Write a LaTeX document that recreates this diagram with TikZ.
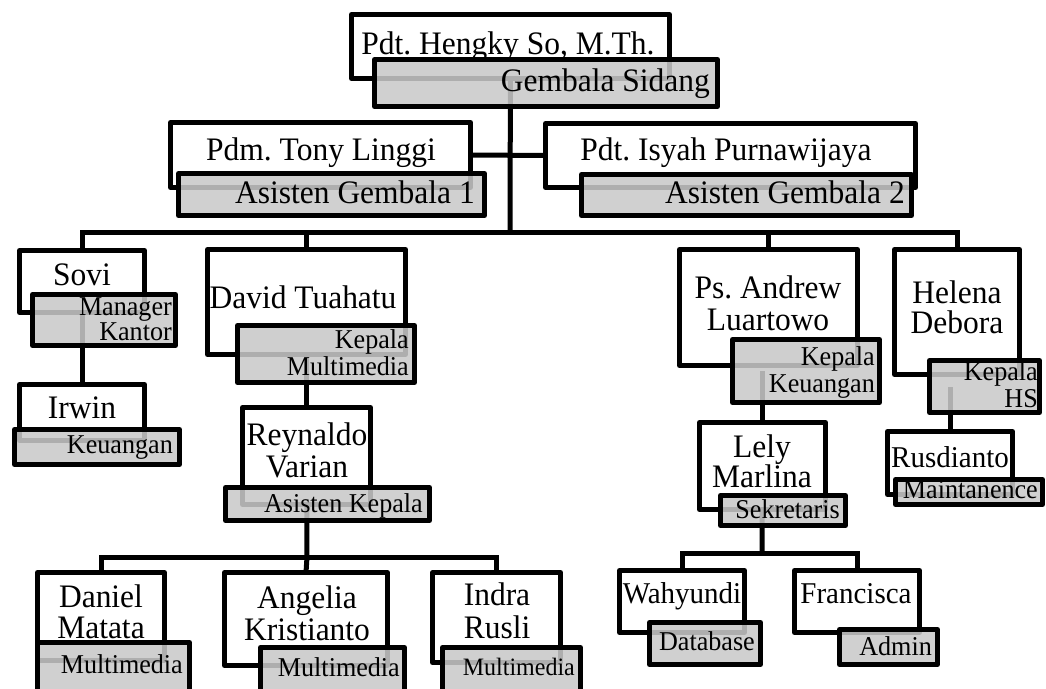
\documentclass[tikz,border=0pt]{standalone}
\usepackage{fontspec}
\setmainfont{Liberation Serif}[FakeStretch=0.96]
\frenchspacing
\usetikzlibrary{backgrounds}
\newcommand\orgbox[6]{\node[#1, minimum width={#5-#3-5}, minimum height={#6-#4-5}] (#2) at ({(#3+#5)/2},{(#4+#6)/2}) {};}
\tikzset{
  wbox/.style={draw, rectangle, line width=5pt, fill=white, inner sep=0pt, outer sep=0pt, line join=round},
  gbox/.style={draw, rectangle, line width=5pt, fill=black!21, fill opacity=0.87, inner sep=0pt, outer sep=0pt, line join=round},
  nm/.style={font=\frenchspacing\fontsize{32.8}{33}\selectfont, anchor=base, inner sep=0pt},
  nms/.style={font=\fontsize{30.2}{31}\selectfont, anchor=base, inner sep=0pt},
  lbl/.style={font=\fontsize{32.8}{33}\selectfont, anchor=base east, inner sep=0pt},
  lb/.style={font=\fontsize{27.2}{28}\selectfont, anchor=base east, inner sep=0pt},
  lbs/.style={font=\fontsize{25}{26}\selectfont, anchor=base east, inner sep=0pt},
  conn/.style={line width=5pt}
}
\begin{document}
\begin{tikzpicture}[x=1pt,y=-1pt]
\useasboundingbox (0,0) rectangle (1046,688);
\clip (0,0) rectangle (1046,688);
% boxes
\orgbox{wbox}{hengkyW}{349}{12}{672}{81}
\orgbox{gbox}{hengkyG}{372}{57}{720}{109}
\orgbox{wbox}{tonyW}{168}{120}{473}{190}
\orgbox{gbox}{tonyG}{176}{171}{487}{218}
\orgbox{wbox}{isyahW}{543}{121}{918}{190}
\orgbox{gbox}{isyahG}{579}{172}{914}{218}
\orgbox{wbox}{soviW}{17}{248}{147}{315}
\orgbox{gbox}{soviG}{30}{292}{178}{348}
\orgbox{wbox}{irwinW}{17}{382}{147}{443}
\orgbox{gbox}{irwinG}{12}{427}{182}{467}
\orgbox{wbox}{davidW}{205}{247}{408}{357}
\orgbox{gbox}{davidG}{235}{323}{417}{385}
\orgbox{wbox}{reynW}{240}{405}{373}{507}
\orgbox{gbox}{reynG}{223}{485}{432}{523}
\orgbox{wbox}{danielW}{35}{570}{167}{663}
\orgbox{gbox}{danielG}{35}{640}{192}{700}
\orgbox{wbox}{angeliaW}{222}{570}{390}{668}
\orgbox{gbox}{angeliaG}{258}{645}{407}{700}
\orgbox{wbox}{indraW}{430}{570}{563}{665}
\orgbox{gbox}{indraG}{440}{645}{583}{700}
\orgbox{wbox}{andrewW}{677}{247}{860}{368}
\orgbox{gbox}{andrewG}{730}{337}{882}{405}
\orgbox{wbox}{lelyW}{697}{420}{828}{512}
\orgbox{gbox}{lelyG}{718}{493}{848}{528}
\orgbox{wbox}{helenaW}{892}{247}{1022}{377}
\orgbox{gbox}{helenaG}{927}{358}{1042}{415}
\orgbox{wbox}{rusW}{885}{429}{1015}{497}
\orgbox{gbox}{rusG}{893}{477}{1045}{507}
\orgbox{wbox}{wahW}{617}{568}{747}{635}
\orgbox{gbox}{wahG}{647}{620}{763}{667}
\orgbox{wbox}{franW}{792}{568}{922}{635}
\orgbox{gbox}{franG}{837}{627}{940}{667}
% texts
\node[nm] (t-hengky) at (508,54) {Pdt. Hengky So, M.Th.};
\node[lbl] (l-hengky) at (710,91) {Gembala Sidang};
\node[nm] (t-tony) at (321,160) {Pdm. Tony Linggi};
\node[lbl] (l-tony) at (475,203) {Asisten Gembala 1};
\node[nm] (t-isyah) at (726,160) {Pdt. Isyah Purnawijaya};
\node[lbl] (l-isyah) at (905,203) {Asisten Gembala 2};
\node[nm] (t-sovi) at (82,285) {Sovi};
\node[lb] (l-sovi1) at (172,315) {Manager};
\node[lb] (l-sovi2) at (172,340) {Kantor};
\node[nm] (t-irwin) at (82,418) {Irwin};
\node[lb] (l-irwin) at (173,453) {Keuangan};
\node[nm] (t-david) at (303,308) {David Tuahatu};
\node[lb] (l-david1) at (409,348) {Kepala};
\node[lb] (l-david2) at (409,375) {Multimedia};
\node[nm] (t-reyn1) at (307,445) {Reynaldo};
\node[nm] (t-reyn2) at (307,477) {Varian};
\node[lb] (l-reyn) at (423,512) {Asisten Kepala};
\node[nm] (t-daniel1) at (101,607) {Daniel};
\node[nm] (t-daniel2) at (101,638) {Matata};
\node[lb] (l-daniel) at (183,673) {Multimedia};
\node[nm] (t-angelia1) at (307,608) {Angelia};
\node[nm] (t-angelia2) at (307,640) {Kristianto};
\node[lb] (l-angelia) at (400,676) {Multimedia};
\node[nm] (t-indra1) at (497,605) {Indra};
\node[nm] (t-indra2) at (497,638) {Rusli};
\node[lbs] (l-indra) at (575,675) {Multimedia};
\node[nm] (t-andrew1) at (768,298) {Ps. Andrew};
\node[nm] (t-andrew2) at (768,330) {Luartowo};
\node[lb] (l-andrew1) at (875,365) {Kepala};
\node[lb] (l-andrew2) at (875,392) {Keuangan};
\node[nm] (t-lely1) at (762,457) {Lely};
\node[nm] (t-lely2) at (762,487) {Marlina};
\node[lb] (l-lely) at (840,518) {Sekretaris};
\node[nm] (t-helena1) at (957,303) {Helena};
\node[nm] (t-helena2) at (957,333) {Debora};
\node[lb] (l-helena1) at (1038,380) {Kepala};
\node[lb] (l-helena2) at (1038,407) {HS};
\node[nms] (t-rus) at (950,467) {Rusdianto};
\node[lb] (l-rus) at (1038,498) {Maintanence};
\node[nms] (t-wah) at (682,603) {Wahyundi};
\node[lb] (l-wah) at (755,650) {Database};
\node[nms] (t-fran) at (856,603) {Francisca};
\node[lb] (l-fran) at (932,655) {Admin};
% connectors
\coordinate (bus1) at (510,232);
\coordinate (bus2) at (307,557);
\coordinate (bus3) at (762,553);
\begin{scope}[on background layer]
\draw[conn] (hengkyW.center) -- (bus1);
\draw[conn] (tonyW.east) -- (isyahW.west);
\draw[conn] (soviW.north) |- (bus1) -| (helenaW.north);
\draw[conn] (davidW.north) |- (bus1);
\draw[conn] (andrewW.north) |- (bus1);
\draw[conn] (soviW.center) -- (irwinW.north);
\draw[conn] (davidW.center) -- (reynW.north);
\draw[conn] (reynW.center) -- (bus2);
\draw[conn] (danielW.north) |- (bus2) -| (indraW.north);
\draw[conn] (angeliaW.north) -- (bus2);
\draw[conn] (lelyW.north) -- (lelyW.north |- andrewG.center);
\draw[conn] (rusW.north) -- (rusW.north |- helenaG.center);
\draw[conn] (lelyW.center) -- (bus3);
\draw[conn] (wahW.north) |- (bus3) -| (franW.north);
\end{scope}
\end{tikzpicture}
\end{document}
